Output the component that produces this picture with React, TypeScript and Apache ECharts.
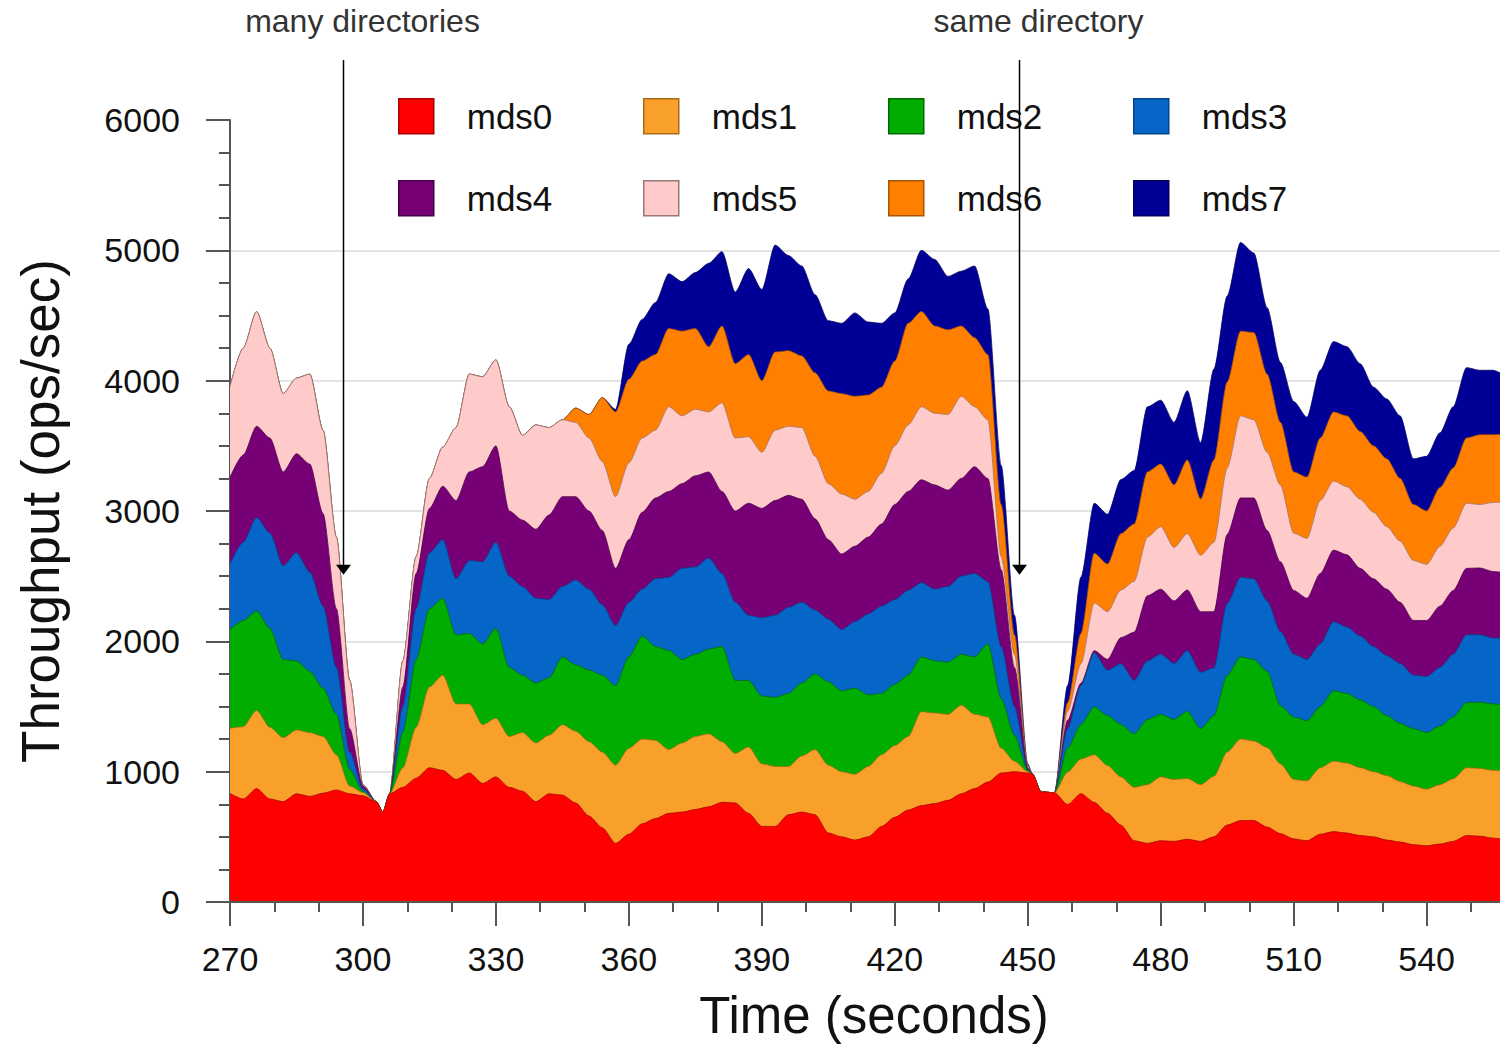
import React, { useEffect, useRef } from 'react';
import * as echarts from 'echarts';

const TIMES = [
  270, 273, 276, 279, 282, 285, 288, 291, 294, 297,
  300, 303, 304.5, 306, 309, 312, 315, 318, 321, 324,
  327, 330, 333, 336, 339, 342, 345, 348, 351, 354,
  357, 360, 363, 366, 369, 372, 375, 378, 381, 384,
  387, 390, 393, 396, 399, 402, 405, 408, 411, 414,
  417, 420, 423, 426, 429, 432, 435, 438, 441, 444,
  447, 450, 451, 453, 456, 459, 462, 465, 468, 471,
  474, 477, 480, 483, 486, 489, 492, 495, 498, 501,
  504, 507, 510, 513, 516, 519, 522, 525, 528, 531,
  534, 537, 540, 543, 546, 549, 552, 555, 557,
];

const MDS0 = [
  833, 790, 870, 790, 770, 830, 810, 835, 860, 830,
  815, 770, 690, 830, 880, 950, 1030, 1010, 940, 990,
  910, 960, 880, 850, 770, 830, 820, 760, 660, 570,
  450, 520, 600, 640, 680, 690, 710, 730, 765, 760,
  680, 580, 580, 670, 690, 670, 530, 500, 475, 500,
  580, 650, 705, 740, 755, 780, 830, 870, 920, 990,
  1000, 990, 985, 845, 838, 748, 831, 765, 681, 590,
  470, 450, 470, 465, 482, 465, 500, 590, 625, 625,
  575, 525, 484, 470, 520, 540, 529, 510, 500, 475,
  460, 440, 432, 445, 465, 510, 505, 490, 484,
];
const MDS1 = [
  500, 555, 600, 550, 490, 490, 490, 435, 270, 60,
  25, 0, 0, 0, 150, 390, 620, 730, 580, 530,
  450, 450, 390, 450, 450, 450, 540, 550, 570, 580,
  600, 660, 650, 600, 490, 530, 560, 560, 465, 380,
  510, 480, 460, 370, 430, 500, 520, 500, 505, 540,
  550, 550, 565, 720, 695, 660, 680, 570, 500, 190,
  80, 10, 0, 0, 0, 249, 266, 365, 366, 370,
  410, 450, 490, 475, 465, 435, 464, 560, 625, 610,
  610, 535, 456, 460, 510, 540, 537, 520, 500, 495,
  465, 450, 433, 455, 480, 520, 520, 520, 522,
];
const MDS2 = [
  758, 815, 763, 760, 600, 530, 470, 370, 310, 130,
  10, 0, 0, 0, 270, 520, 600, 590, 530, 540,
  620, 690, 530, 440, 460, 440, 520, 510, 550, 590,
  610, 700, 790, 720, 760, 640, 630, 650, 730, 560,
  510, 520, 530, 560, 560, 580, 640, 620, 660, 550,
  470, 470, 470, 420, 400, 400, 390, 440, 560, 380,
  200, 10, 0, 0, 0, 183, 266, 366, 383, 403,
  410, 500, 480, 460, 516, 430, 466, 590, 630, 625,
  585, 445, 480, 460, 470, 540, 534, 520, 500, 460,
  445, 440, 435, 450, 475, 500, 507, 510, 508,
];
const MDS3 = [
  500, 600, 717, 730, 720, 830, 760, 630, 360, 130,
  20, 0, 0, 0, 200, 390, 430, 450, 430, 560,
  630, 660, 700, 680, 650, 600, 540, 650, 620, 540,
  460, 420, 360, 520, 560, 700, 670, 700, 560, 600,
  500, 600, 630, 660, 620, 490, 480, 470, 510, 620,
  670, 650, 650, 570, 550, 580, 600, 640, 480, 400,
  220, 10, 0, 0, 0, 150, 299, 416, 348, 465,
  410, 450, 460, 430, 465, 432, 365, 550, 610, 620,
  540, 570, 480, 470, 480, 530, 510, 490, 460, 460,
  460, 410, 430, 450, 480, 520, 518, 505, 508,
];
const MDS4 = [
  667, 670, 700, 730, 720, 760, 830, 710, 450, 180,
  20, 0, 0, 0, 150, 270, 340, 410, 600, 680,
  730, 740, 500, 510, 530, 650, 690, 640, 600, 570,
  440, 480, 590, 620, 660, 650, 700, 660, 630, 700,
  860, 840, 880, 860, 790, 700, 610, 580, 580, 590,
  630, 730, 760, 790, 800, 740, 750, 820, 790, 590,
  300, 10, 0, 0, 0, 66, 17, 16, 84, 200,
  370, 500, 500, 480, 466, 465, 432, 530, 610, 620,
  540, 535, 490, 470, 540, 550, 554, 520, 520, 510,
  470, 420, 430, 470, 490, 510, 513, 510, 507,
];
const MDS5 = [
  697, 820, 880, 690, 600, 580, 690, 640, 550, 370,
  10, 0, 0, 0, 200, 130, 230, 300, 560, 750,
  690, 660, 800, 650, 800, 670, 590, 570, 560, 530,
  550, 590, 570, 520, 650, 520, 510, 460, 680, 560,
  510, 430, 540, 530, 550, 480, 430, 460, 360, 350,
  390, 450, 510, 560, 550, 580, 630, 460, 450, 100,
  100, 10, 0, 0, 0, 67, 149, 366, 365, 366,
  390, 450, 480, 410, 432, 433, 532, 510, 630, 600,
  600, 590, 440, 460, 560, 530, 522, 530, 510, 480,
  470, 460, 430, 460, 480, 500, 487, 530, 538,
];
const MDS6 = [
  0, 0, 0, 0, 0, 0, 0, 0, 0, 0,
  0, 0, 0, 0, 0, 0, 0, 0, 0, 0,
  0, 0, 0, 0, 0, 0, 0, 110, 180, 490,
  650, 640, 590, 580, 600, 650, 620, 500, 590, 570,
  630, 550, 600, 580, 550, 640, 710, 770, 790, 740,
  660, 650, 780, 730, 670, 650, 540, 530, 500, 400,
  150, 10, 0, 0, 0, 66, 233, 382, 366, 432,
  440, 500, 480, 480, 565, 432, 632, 660, 650, 670,
  600, 480, 470, 470, 480, 530, 544, 520, 510, 520,
  480, 430, 410, 450, 460, 500, 535, 520, 522,
];
const MDS7 = [
  0, 0, 0, 0, 0, 0, 0, 0, 0, 0,
  0, 0, 0, 0, 0, 0, 0, 0, 0, 0,
  0, 0, 0, 0, 0, 0, 0, 0, 0, 0,
  20, 270, 320, 400, 420, 380, 430, 640, 570, 550,
  660, 700, 820, 730, 690, 600, 540, 540, 640, 560,
  490, 370, 340, 470, 510, 410, 420, 550, 350, 300,
  150, 10, 0, 0, 0, 133, 432, 383, 382, 415,
  410, 500, 490, 480, 532, 432, 698, 660, 680, 610,
  510, 460, 540, 460, 520, 540, 531, 520, 450, 460,
  480, 350, 420, 420, 470, 540, 495, 495, 463,
];

const SERIES_NAMES = ['mds0', 'mds1', 'mds2', 'mds3', 'mds4', 'mds5', 'mds6', 'mds7'];
const SERIES_VALUES = [MDS0, MDS1, MDS2, MDS3, MDS4, MDS5, MDS6, MDS7];
const FILL_COLORS = ['#ff0000', '#f9a02a', '#00ad00', '#0566c8', '#770077', '#ffcaca', '#ff7f00', '#000096'];
const EDGE_COLORS = ['#a80000', '#a86a18', '#006a00', '#03458a', '#440044', '#9a7676', '#a85400', '#000060'];

const Y_TICKS = [0, 1000, 2000, 3000, 4000, 5000, 6000];
const X_MIN = 270;
const X_MAX = 557;

const ANNOT_LABELS = ['many directories', 'same directory'];
const ANNOT_TIMES = [295.5, 448];
const ARROW_TIP_VALUE = 2510;

const FONT = '"Liberation Sans", Arial, sans-serif';

export default function App() {
  const ref = useRef<HTMLDivElement>(null);

  useEffect(() => {
    if (!ref.current) return;
    const chart = echarts.init(ref.current, null, { renderer: 'svg' });

    // Stack the layers (cumulative sums), since ECharts stacks the x dimension
    // when both axes are value axes. Upper layers are drawn first (behind).
    const running = TIMES.map(() => 0);
    const stacked = SERIES_VALUES.map((vals) =>
      vals.map((v, k) => {
        running[k] += v;
        return running[k];
      })
    );

    const series = SERIES_NAMES.map((name, i) => ({
      name,
      type: 'line',
      xAxisIndex: 0,
      yAxisIndex: 0,
      data: TIMES.map((t, k) => [t, stacked[i][k]]),
      symbol: 'none',
      showSymbol: false,
      smooth: 0.25,
      smoothMonotone: 'x',
      lineStyle: { color: EDGE_COLORS[i], width: 1, opacity: 0.75 },
      itemStyle: { color: FILL_COLORS[i] },
      areaStyle: { color: FILL_COLORS[i], opacity: 1, origin: 'start' },
      emphasis: { disabled: true },
      z: 10 - i,
    }));

    const legends = SERIES_NAMES.map((name, i) => ({
      data: [
        {
          name,
          icon: 'rect',
          itemStyle: { color: FILL_COLORS[i], borderColor: EDGE_COLORS[i], borderWidth: 1.5 },
        },
      ],
      left: 398 + 245 * (i % 4),
      top: 98 + 82 * Math.floor(i / 4),
      padding: 0,
      itemWidth: 35,
      itemHeight: 35,
      selectedMode: false,
      textStyle: { fontSize: 35, fontFamily: FONT, color: '#111', padding: [0, 0, 0, 28] },
    }));

    const splitColors = Y_TICKS.map((v, i) => (i === Y_TICKS.length - 1 ? 'rgba(0,0,0,0)' : '#e3e3e3'));

    chart.setOption({
      animation: false,
      backgroundColor: '#ffffff',
      legend: legends,
      grid: {
        left: 230,
        right: -2,
        top: 120,
        bottom: 144,
        containLabel: false,
        outerBoundsMode: 'none',
      },
      xAxis: [
        {
          type: 'value',
          min: X_MIN,
          max: X_MAX,
          interval: 30,
          position: 'bottom',
          name: 'Time (seconds)',
          nameLocation: 'middle',
          nameGap: 88,
          nameTextStyle: {
            fontSize: 51,
            lineHeight: 50,
            fontFamily: FONT,
            color: '#111',
            padding: [0, 0, 0, 16],
          },
          axisLine: { show: true, lineStyle: { color: '#555', width: 2 } },
          axisTick: { show: true, length: 24, lineStyle: { color: '#555', width: 2 } },
          axisLabel: {
            show: true,
            margin: 40,
            fontSize: 34,
            lineHeight: 34,
            fontFamily: FONT,
            color: '#111',
            showMaxLabel: false,
            formatter: (v: number) => String(v),
          },
          splitLine: { show: false },
          z: 20,
        },
        {
          type: 'value',
          min: X_MIN,
          max: X_MAX,
          interval: 10,
          position: 'bottom',
          axisLine: { show: false },
          axisTick: { show: true, length: 10, lineStyle: { color: '#555', width: 2 } },
          axisLabel: { show: false },
          splitLine: { show: false },
        },
      ],
      yAxis: {
        type: 'value',
        min: 0,
        max: 6000,
        interval: 1000,
        name: 'Throughput (ops/sec)',
        nameLocation: 'middle',
        nameGap: 162,
        nameRotate: 90,
        nameTextStyle: { fontSize: 53, lineHeight: 56, fontFamily: FONT, color: '#111' },
        axisLine: { show: true, lineStyle: { color: '#555', width: 2 } },
        axisTick: { show: true, length: 24, lineStyle: { color: '#555', width: 2 } },
        minorTick: { show: true, splitNumber: 4, length: 11, lineStyle: { color: '#555', width: 2 } },
        axisLabel: {
          margin: 50,
          fontSize: 34,
          fontFamily: FONT,
          color: '#111',
          formatter: (v: number) => String(v),
        },
        splitLine: { show: true, lineStyle: { color: splitColors, width: 2 } },
      },
      series,
    });

    const graphics: any[] = [];
    ANNOT_TIMES.forEach((t, i) => {
      const p = chart.convertToPixel({ seriesIndex: 0 }, [t, ARROW_TIP_VALUE]) as number[];
      const x = Math.round(p[0]) + 0.5;
      const tipY = p[1];
      graphics.push({
        type: 'line',
        shape: { x1: x, y1: 60, x2: x, y2: tipY - 8 },
        style: { stroke: '#000', lineWidth: 1.5 },
        z: 100,
        silent: true,
      });
      graphics.push({
        type: 'polygon',
        shape: { points: [[x - 7.5, tipY - 10], [x + 7.5, tipY - 10], [x, tipY]] },
        style: { fill: '#000' },
        z: 100,
        silent: true,
      });
      graphics.push({
        type: 'text',
        x: x + 19,
        y: 21,
        style: {
          text: ANNOT_LABELS[i],
          fontSize: 32,
          fontFamily: FONT,
          fill: '#333',
          align: 'center',
          verticalAlign: 'middle',
        },
        z: 100,
        silent: true,
      });
    });
    chart.setOption({ graphic: graphics });

    return () => {
      chart.dispose();
    };
  }, []);

  return (
    <div
      ref={ref}
      style={{ position: 'absolute', left: 0, top: 0, width: 1500, height: 1046, background: '#fff' }}
    />
  );
}
